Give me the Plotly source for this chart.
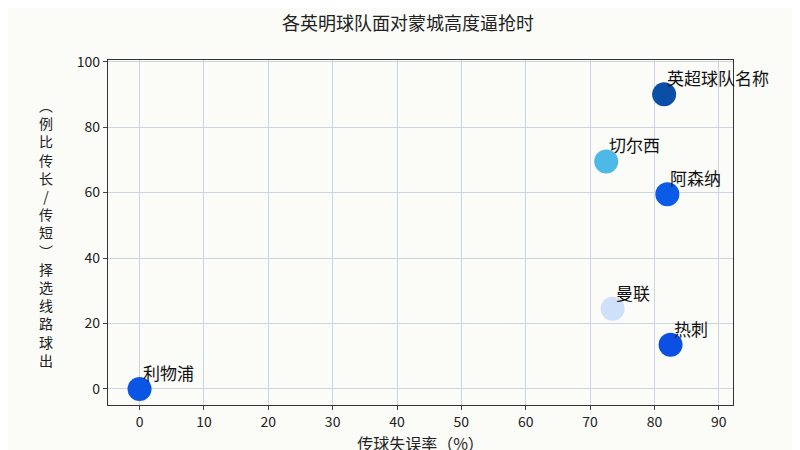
import plotly.graph_objects as go

teams = ["英超球队名称", "切尔西", "阿森纳", "曼联", "热刺", "利物浦"]
pass_error = [81.5, 72.5, 82.0, 73.5, 82.5, 0.0]
ratio = [90.0, 69.5, 59.5, 24.5, 13.5, 0.0]
colors = ["#0a4ea6", "#4cb9e6", "#0a5ce8", "#cfe0fa", "#0b50e2", "#0b55e4"]
title = "各英明球队面对蒙城高度逼抢时"
ylabel_chars = ["︵", "例", "比", "传", "长", "/", "传", "短", "︶", "择", "选", "线", "路", "球", "出"]

font = "Noto Sans CJK SC"
fig = go.Figure(go.Scatter(
    x=pass_error, y=ratio, mode="markers",
    marker=dict(size=24, color=colors, line=dict(width=0)), cliponaxis=False,
    hoverinfo="skip"))
for t, x, y in zip(teams, pass_error, ratio):
    fig.add_annotation(x=x, y=y, text=t, showarrow=False, xanchor="left", yanchor="bottom",
                       xshift=1, yshift=2, font=dict(size=17, color="#111", family=font))
grid = dict(showgrid=True, gridcolor="#ccd3e3", zeroline=False, showline=True, mirror=True,
            linecolor="#333", linewidth=1.2, ticks="outside", ticklen=4, tickfont=dict(size=14))
fig.update_layout(
    width=800, height=450, margin=dict(l=100, r=75, t=52, b=48),
    paper_bgcolor="#fbfbf8", plot_bgcolor="#fbfbf8", showlegend=False,
    font=dict(family=font, color="#222"),
    title=dict(text=title, x=0.5, xanchor="center", y=0.965, yanchor="middle", font=dict(size=18)),
    xaxis=dict(range=[-4.9, 92.2], tickvals=list(range(0, 91, 10)),
               title=dict(text="传球失误率（%）", font=dict(size=16), standoff=4), **grid),
    yaxis=dict(range=[-4.9, 100.5], tickvals=list(range(0, 101, 20)), **grid),
)
fig.add_annotation(text="<br>".join(ylabel_chars), xref="paper", yref="paper", x=-0.1, y=0.5,
                   showarrow=False, font=dict(size=14, family=font), xanchor="center",
                   yanchor="middle")
fig.write_html("out.html")
